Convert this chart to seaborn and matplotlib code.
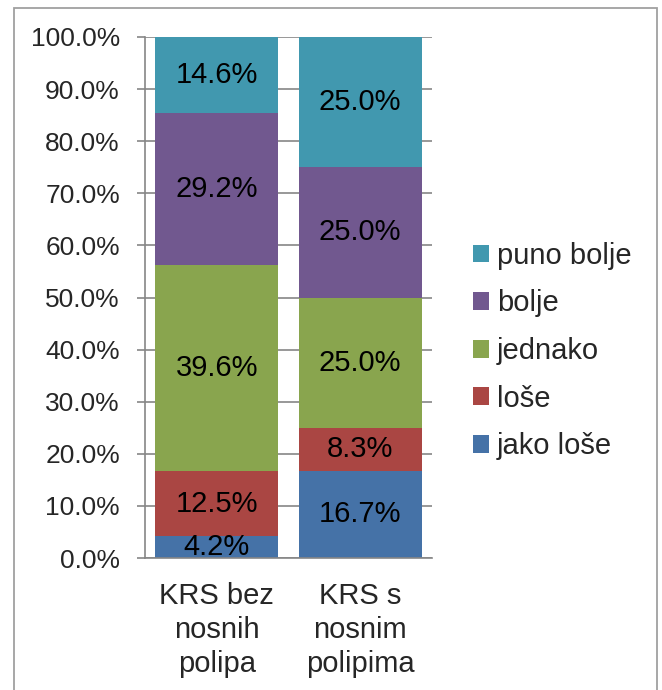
import matplotlib
matplotlib.use("Agg")
import matplotlib.pyplot as plt
import matplotlib.patches as mpatches
import seaborn as sns
import numpy as np

categories = ["KRS bez\nnosnih\npolipa", "KRS s\nnosnim\npolipima"]
series_names = ["jako loše", "loše", "jednako", "bolje", "puno bolje"]
jako_lose = [4.2, 16.7]
lose = [12.5, 8.3]
jednako = [39.6, 25.0]
bolje = [29.2, 25.0]
puno_bolje = [14.6, 25.0]
series_values = [jako_lose, lose, jednako, bolje, puno_bolje]
colors = ["#4572A7", "#AA4643", "#89A54E", "#71588F", "#4198AF"]
ytick_values = [0, 10, 20, 30, 40, 50, 60, 70, 80, 90, 100]
ytick_labels = [f"{v:.1f}%" for v in ytick_values]

sns.set_style("white")
plt.rcParams["font.family"] = ["Liberation Sans", "DejaVu Sans"]
FS_TICK = 19
FS = 21
grid_c = "#868686"

fig = plt.figure(figsize=(6.62, 6.90), dpi=100)
fig.patches.append(mpatches.Rectangle((14 / 662, -0.1), (657 - 14) / 662, 1.1 - 8 / 690,
                                      transform=fig.transFigure, fill=False,
                                      edgecolor="#a0a0a0", linewidth=1.3))
ax = fig.add_axes([145 / 662, 1 - 558 / 690, (432 - 145) / 662, (558 - 37) / 690])

bottoms = np.zeros(len(categories))
for name, vals, col in zip(series_names, series_values, colors):
    sns.barplot(x=categories, y=vals, bottom=bottoms, color=col, width=0.86,
                ax=ax, label=name, saturation=1, linewidth=0)
    bottoms = bottoms + np.array(vals)

for cont, vals in zip(ax.containers, series_values):
    ax.bar_label(cont, labels=[f"{v:.1f}%" for v in vals], label_type="center",
                 fontsize=FS, color="black")

ax.set_xlim(-0.5, 1.5)
ax.set_ylim(0, 100)
ax.set_yticks(ytick_values)
ax.set_yticklabels(ytick_labels, fontsize=FS_TICK)
ax.set_xticks([0, 1])
ax.set_xticklabels(categories, fontsize=FS, linespacing=1.28)
ax.set_xticks([-0.5, 0.5, 1.5], minor=True)
ax.tick_params(axis="x", which="major", length=0, pad=17)
ax.tick_params(axis="x", which="minor", length=8, color=grid_c, width=1.2)
ax.tick_params(axis="y", which="major", length=6, color=grid_c, width=1.2, pad=12, left=True)
ax.yaxis.grid(True, color=grid_c, linewidth=1.2)
ax.set_axisbelow(True)
for s in ["top", "right"]:
    ax.spines[s].set_visible(False)
for s in ["left", "bottom"]:
    ax.spines[s].set_color(grid_c)
    ax.spines[s].set_linewidth(1.2)
ax.set_xlabel("")
ax.set_ylabel("")

handles, labels = ax.get_legend_handles_labels()
leg = fig.legend(handles[::-1], labels[::-1], loc="center left",
                 bbox_to_anchor=(473 / 662, 1 - 351 / 690), frameon=False,
                 fontsize=FS, borderpad=0, borderaxespad=0, handlelength=0.56,
                 handleheight=0.56, handletextpad=0.25, labelspacing=0.67)
if ax.get_legend():
    ax.get_legend().remove()

fig.savefig("out.png", dpi=100)
